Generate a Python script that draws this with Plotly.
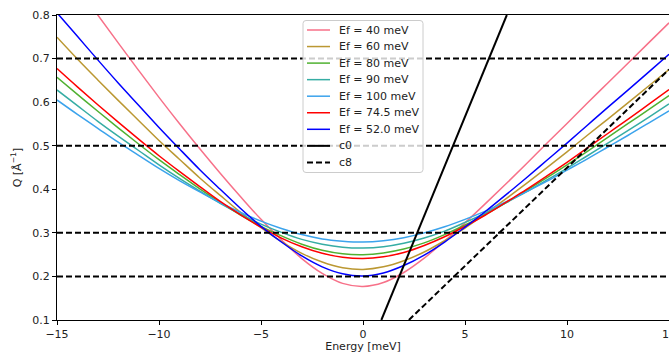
import plotly.graph_objects as go

# Energy transfer grid [meV]
energy = list(range(-15, 16))

# Q [1/Angstrom] for each final energy
q_ef40 = [0.933, 0.866, 0.800, 0.736, 0.673, 0.611, 0.551, 0.493, 0.437, 0.383, 0.331, 0.284, 0.241, 0.207, 0.184, 0.177,
          0.186, 0.209, 0.242, 0.281, 0.323, 0.367, 0.412, 0.458, 0.505, 0.551, 0.598, 0.644, 0.690, 0.736, 0.782]
q_ef60 = [0.749, 0.699, 0.651, 0.604, 0.558, 0.512, 0.469, 0.426, 0.386, 0.347, 0.312, 0.280, 0.253, 0.233, 0.220, 0.216,
          0.222, 0.236, 0.256, 0.282, 0.311, 0.344, 0.378, 0.413, 0.449, 0.486, 0.524, 0.561, 0.599, 0.637, 0.675]
q_ef80 = [0.657, 0.618, 0.579, 0.541, 0.504, 0.468, 0.434, 0.401, 0.370, 0.341, 0.315, 0.293, 0.274, 0.260, 0.252, 0.250,
          0.254, 0.263, 0.277, 0.296, 0.318, 0.342, 0.369, 0.397, 0.426, 0.456, 0.487, 0.519, 0.551, 0.583, 0.615]
q_ef90 = [0.628, 0.592, 0.556, 0.522, 0.489, 0.456, 0.425, 0.396, 0.368, 0.343, 0.320, 0.301, 0.285, 0.274, 0.267, 0.265,
          0.268, 0.276, 0.288, 0.304, 0.324, 0.345, 0.369, 0.394, 0.421, 0.448, 0.477, 0.506, 0.535, 0.565, 0.596]
q_ef100 = [0.605, 0.572, 0.540, 0.508, 0.478, 0.448, 0.420, 0.394, 0.369, 0.347, 0.327, 0.310, 0.296, 0.286, 0.281, 0.279,
           0.282, 0.289, 0.300, 0.314, 0.331, 0.350, 0.371, 0.394, 0.418, 0.444, 0.470, 0.497, 0.524, 0.552, 0.580]
q_ef745 = [0.677, 0.635, 0.594, 0.554, 0.515, 0.477, 0.441, 0.406, 0.372, 0.341, 0.313, 0.288, 0.268, 0.253, 0.244, 0.241,
           0.245, 0.255, 0.271, 0.291, 0.315, 0.341, 0.370, 0.399, 0.430, 0.462, 0.495, 0.528, 0.561, 0.595, 0.629]
q_ef52 = [0.805, 0.751, 0.697, 0.644, 0.593, 0.542, 0.493, 0.445, 0.400, 0.356, 0.315, 0.279, 0.247, 0.222, 0.206, 0.201,
          0.208, 0.225, 0.249, 0.279, 0.313, 0.349, 0.387, 0.426, 0.466, 0.506, 0.547, 0.588, 0.628, 0.669, 0.710]

series_names = ["Ef = 40 meV", "Ef = 60 meV", "Ef = 80 meV", "Ef = 90 meV", "Ef = 100 meV",
                "Ef = 74.5 meV", "Ef = 52.0 meV"]
series_values = [q_ef40, q_ef60, q_ef80, q_ef90, q_ef100, q_ef745, q_ef52]
series_colors = ["#f77189", "#bb9832", "#50b131", "#36ada4", "#3ba3ec", "#ff0000", "#0000ff"]

# Straight reference lines (endpoints)
c0_energy = [0.90, 7.05]
c0_q = [0.10, 0.80]
c8_energy = [2.25, 15.0]
c8_q = [0.10, 0.675]

# Horizontal Q levels
q_levels = [0.2, 0.3, 0.5, 0.7]

x_ticks = [-15, -10, -5, 0, 5, 10, 15]
y_ticks = [0.1, 0.2, 0.3, 0.4, 0.5, 0.6, 0.7, 0.8]

X_RANGE = [-15, 15]
Y_RANGE = [0.1, 0.8]

# ---- layout geometry ----
W, H = 669, 353
ML, MR, MT, MB = 57, 0, 15, 33
PW = W - ML - MR
PH = H - MT - MB


def px_x(px):
    """page pixel -> x data"""
    return X_RANGE[0] + (px - ML) * (X_RANGE[1] - X_RANGE[0]) / PW


def px_y(py):
    """page pixel -> y data"""
    return Y_RANGE[1] - (py - MT) * (Y_RANGE[1] - Y_RANGE[0]) / PH


DASH = "6px,3px"

fig = go.Figure()

for name, vals, col in zip(series_names, series_values, series_colors):
    fig.add_trace(go.Scatter(x=energy, y=vals, mode="lines", name=name,
                             line=dict(color=col, width=1.5, shape="spline")))

fig.add_trace(go.Scatter(x=c0_energy, y=c0_q, mode="lines", name="c0",
                         line=dict(color="black", width=2)))
fig.add_trace(go.Scatter(x=c8_energy, y=c8_q, mode="lines", name="c8",
                         line=dict(color="black", width=2, dash=DASH)))

for q in q_levels:
    fig.add_shape(type="line", xref="paper", x0=0, x1=1, yref="y", y0=q, y1=q,
                  line=dict(color="black", width=2, dash=DASH), layer="above")

# ---- legend (drawn like matplotlib's) ----
bx0, bx1, by0, by1 = 303, 423, 20.5, 172.5
r = 3
x0, x1 = px_x(bx0), px_x(bx1)
y0, y1 = px_y(by0), px_y(by1)
rx = px_x(bx0 + r) - x0
ry = y0 - px_y(by0 + r)
path = (f"M {x0 + rx},{y0} L {x1 - rx},{y0} Q {x1},{y0} {x1},{y0 - ry} "
        f"L {x1},{y1 + ry} Q {x1},{y1} {x1 - rx},{y1} L {x0 + rx},{y1} "
        f"Q {x0},{y1} {x0},{y1 + ry} L {x0},{y0 - ry} Q {x0},{y0} {x0 + rx},{y0} Z")
fig.add_shape(type="path", xref="x", yref="y", path=path,
              fillcolor="rgba(255,255,255,0.8)", line=dict(color="#cccccc", width=1), layer="above")

legend_names = series_names + ["c0", "c8"]
legend_colors = series_colors + ["black", "black"]
legend_widths = [1.5] * len(series_names) + [2, 2]
legend_dash = ["solid"] * (len(series_names) + 1) + [DASH]
font = dict(family="DejaVu Sans", size=11, color="#222222")

for i, (nm, col, lw, ds) in enumerate(zip(legend_names, legend_colors, legend_widths, legend_dash)):
    cy = 30.0 + 16.55 * i
    fig.add_shape(type="line", xref="x", yref="y", x0=px_x(307), x1=px_x(330),
                  y0=px_y(cy), y1=px_y(cy), line=dict(color=col, width=lw, dash=ds), layer="above")
    fig.add_annotation(x=px_x(338), y=px_y(cy), xref="x", yref="y", text=nm, showarrow=False,
                       xanchor="left", yanchor="middle", font=font, borderpad=0)

fig.update_layout(
    width=W, height=H,
    margin=dict(l=ML, r=MR, t=MT, b=MB),
    paper_bgcolor="white", plot_bgcolor="white",
    font=font,
    showlegend=False,
    xaxis=dict(range=X_RANGE, tickvals=x_ticks,
               ticktext=[("\u2212" + str(-t)) if t < 0 else str(t) for t in x_ticks],
               showgrid=False, zeroline=False, showline=True, linecolor="black", linewidth=1, mirror=True,
               ticks="outside", ticklen=4, tickcolor="black", automargin=False,
               ticklabeloverflow="allow",
               title=dict(text="Energy [meV]", standoff=7, font=font)),
    yaxis=dict(range=Y_RANGE, tickvals=y_ticks, ticktext=[f"{t:.1f}" for t in y_ticks],
               showgrid=False, zeroline=False, showline=True, linecolor="black", linewidth=1, mirror=False,
               ticks="outside", ticklen=4, tickcolor="black", automargin=False,
               title=dict(text="Q [Å<sup>\u22121</sup>]", standoff=8, font=font)),
)

fig.write_html("out.html", config={"displayModeBar": False},
               post_script="document.body.style.margin='0px';document.body.style.overflow='hidden';")
